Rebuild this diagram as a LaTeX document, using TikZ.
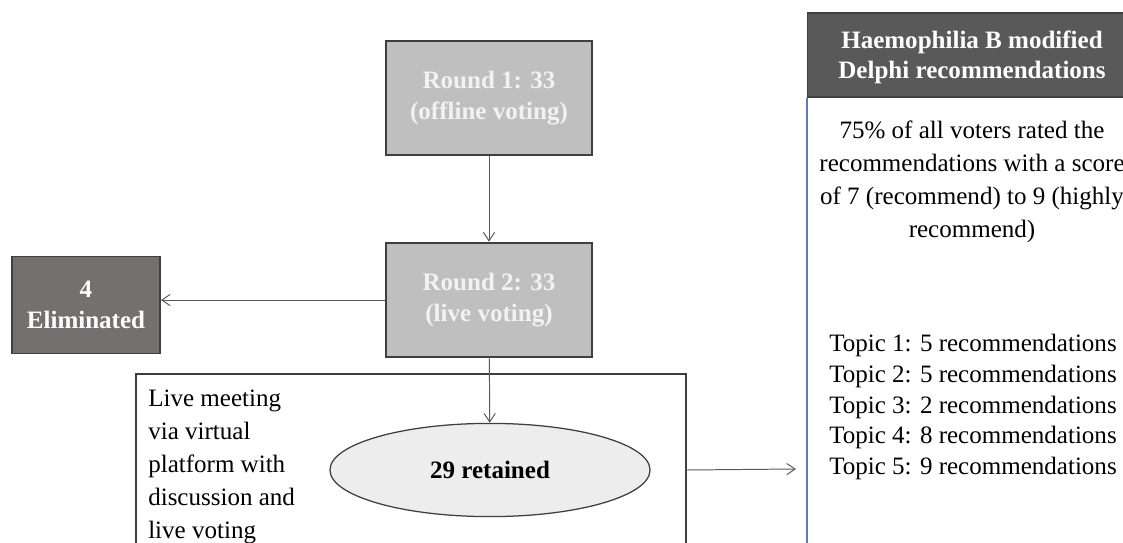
\documentclass[tikz,border=0pt]{standalone}
\usepackage{fontspec}
\setmainfont{Liberation Serif}
\usetikzlibrary{arrows.meta,shapes.geometric,positioning}
\definecolor{boxgray}{HTML}{BFBFBF}
\definecolor{elimgray}{HTML}{747070}
\definecolor{headgray}{HTML}{595959}
\definecolor{edgegray}{HTML}{3F3F3F}
\definecolor{ovalgray}{HTML}{EDEDED}
\definecolor{panelblue}{HTML}{5B7BC0}
\definecolor{linkgray}{HTML}{595959}
\begin{document}
\begin{tikzpicture}[
                        x=0.025cm, y=-0.025cm,
                        node distance=5.05cm,
                        >={Straight Barb[length=6pt,width=8pt]},
                        every node/.style={font=\fontsize{17.8}{23.5}\selectfont},
                        roundbox/.style={rectangle, draw=edgegray, line width=1.4pt, fill=boxgray, text=white!95!black, align=center, font=\fontsize{17.8}{21.5}\selectfont\bfseries, minimum width=5.13cm, minimum height=2.87cm},
                        elimbox/.style={rectangle, draw=edgegray, line width=1.2pt, fill=elimgray, text=white, align=center, font=\fontsize{17.8}{21.5}\selectfont\bfseries, minimum width=3.7cm, minimum height=2.42cm},
                        headbox/.style={rectangle, draw=edgegray, line width=0.8pt, fill=headgray, minimum width=9cm, minimum height=2.1cm},
                        link/.style={->, draw=linkgray, line width=0.7pt}
                    ]
                    \clip (0,0) rectangle (1123,543);
                    % Blocks
                    \node [roundbox] (r1) at (489,98) {Round 1: 33\\(offline voting)};
                    \node [roundbox, below of=r1] (r2) {Round 2: 33\\(live voting)};
                    \node [elimbox] (elim) at (86,305) {4\\Eliminated};
                    \node [rectangle, draw=edgegray, line width=1.2pt, minimum width=13.75cm, minimum height=5.65cm] (meet) at (411,487) {};
                    \node [anchor=west, align=left, inner sep=0pt] (meettext) at (148,467) {Live meeting\\via virtual\\platform with\\discussion and\\live voting};
                    \node [ellipse, draw=edgegray, line width=0.9pt, fill=ovalgray, minimum width=8cm, minimum height=2.33cm, font=\fontsize{17.8}{21.5}\selectfont\bfseries] (kept) at (490,470) {29 retained};

                    % Panel
                    \node [headbox, anchor=west] (head) at (807,55) {};
                    \node [text=white, align=center, font=\fontsize{17.8}{21.3}\selectfont\bfseries] (headtext) at (972,57) {Haemophilia B modified\\Delphi recommendations};
                    \coordinate (panelfoot) at (807,560);
                    \draw [panelblue, line width=1.1pt] (head.south west) -- (panelfoot);
                    \node [align=center, font=\fontsize{17.8}{23.3}\selectfont] (rule) at (972,182) {75\% of all voters rated the\\recommendations with a score\\of 7 (recommend) to 9 (highly\\recommend)};
                    \node [anchor=west, align=left, inner sep=0pt, font=\fontsize{17.8}{22}\selectfont] (topics) at (829,407) {Topic 1: 5 recommendations\\Topic 2: 5 recommendations\\Topic 3: 2 recommendations\\Topic 4: 8 recommendations\\Topic 5: 9 recommendations};

                    % Connections
                    \coordinate (panelin) at (796,469);
                    \draw [link] (r1) -- (r2);
                    \draw [link] (r2.west) -- (r2.west -| elim.east);
                    \draw [link] (r2) -- (kept);
                    \draw [link] (meet.east |- kept) -- (panelin);
                \end{tikzpicture}
\end{document}
